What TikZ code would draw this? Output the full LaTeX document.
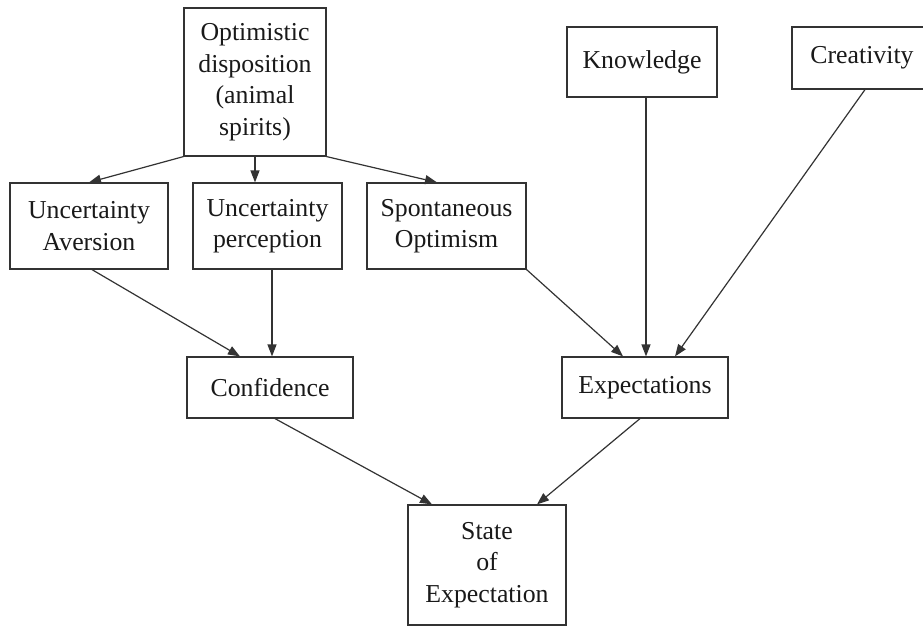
\documentclass[tikz,border=0pt]{standalone}
\usepackage{fontspec}
\setmainfont{Liberation Serif}
\usetikzlibrary{arrows.meta}
\definecolor{ink}{HTML}{333333}
\begin{document}
\begin{tikzpicture}[x=1pt,y=-1pt,
  box/.style={draw=ink, line width=1.2pt, inner sep=0pt, align=center,
    font=\fontsize{25.8}{31.5}\selectfont, text=black!90},
  arr/.style={draw=ink, line width=1.2pt, -{Triangle[length=12pt,width=9pt]}}]
\useasboundingbox (0,0) rectangle (923,627);
\fill[white] (0,0) rectangle (923,627);
% nodes
\node[box, minimum width=142pt, minimum height=148pt] (opt) at (255,82)
  {Optimistic\\disposition\\(animal\\spirits)};
\node[box, minimum width=150pt, minimum height=70pt] (know) at (642,62) {Knowledge};
\begin{scope}
\clip (0,0) rectangle (923,627);
\node[box, minimum width=140pt, minimum height=62pt] (crea) at (862,58) {Creativity};
\end{scope}
\node[box, minimum width=158pt, minimum height=86pt] (ua) at (89,226) {Uncertainty\\Aversion};
\node[box, minimum width=149pt, minimum height=86pt] (up) at (267.5,226) {Uncertainty\\perception};
\node[box, minimum width=159pt, minimum height=86pt] (so) at (446.5,226) {Spontaneous\\Optimism};
\node[box, minimum width=166pt, minimum height=61pt] (conf) at (270,387.5) {Confidence};
\node[box, minimum width=166pt, minimum height=61pt] (exp) at (645,387.5) {Expectations};
\node[box, minimum width=158pt, minimum height=120pt] (state) at (487,565) {State\\of\\Expectation};
% connectors
\draw[arr] (opt.south west) -- (ua.north);
\draw[arr] (opt.south) -- (opt.south |- up.north);
\draw[arr] (opt.south east) -- ([xshift=-9.5pt]so.north);
\draw[arr] ([xshift=3pt]ua.south) -- ([xshift=-30pt]conf.north);
\draw[arr] ([xshift=4.5pt]up.south) -- ([xshift=2pt]conf.north);
\draw[arr] (so.south east) -- ([xshift=-22pt]exp.north);
\draw[arr] ([xshift=4pt]know.south) -- ([xshift=1pt]exp.north);
\draw[arr] ([xshift=3pt]crea.south) -- ([xshift=30pt]exp.north);
\draw[arr] ([xshift=5pt]conf.south) -- ([xshift=-55pt]state.north);
\draw[arr] ([xshift=-5pt]exp.south) -- ([xshift=50pt]state.north);
\end{tikzpicture}
\end{document}
